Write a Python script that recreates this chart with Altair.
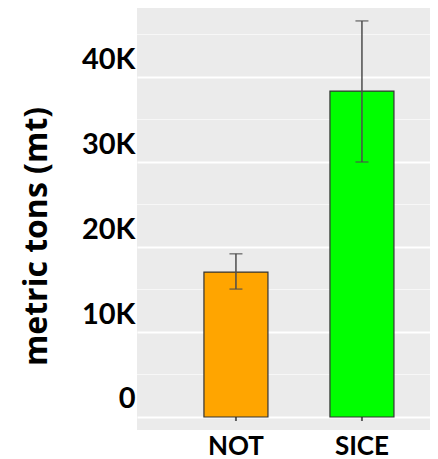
import altair as alt
import pandas as pd

categories = ["NOT", "SICE"]
means = [17050, 38350]
lower = [15050, 30000]
upper = [19200, 46600]
colors = ["#FFA500", "#00FF00"]
major_ticks = [0, 10000, 20000, 30000, 40000]
minor_ticks = [5000, 15000, 25000, 35000, 45000]

df = pd.DataFrame({"cat": categories, "mean": means, "lo": lower, "hi": upper, "color": colors})
minor_df = pd.DataFrame({"v": minor_ticks})

yscale = alt.Scale(domain=[-1530, 48120], nice=False, zero=False)
xscale = alt.Scale(domain=categories, paddingInner=0.492, paddingOuter=0.4087, align=0.65)

FONT = "Lato"

x_enc = alt.X("cat:N", scale=xscale, sort=categories,
              axis=alt.Axis(title=None, labelAngle=0, labelFont=FONT, labelFontSize=26,
                            labelFontWeight="bold", labelColor="black", ticks=False, tickSize=0,
                            domain=False, labelBaseline="alphabetic", labelPadding=24))

minor = alt.Chart(minor_df).mark_rule(color="#F7F7F7", strokeWidth=1).encode(
    y=alt.Y("v:Q", scale=yscale)
)

bars = alt.Chart(df).mark_bar(stroke="#333333", strokeWidth=1.2).encode(
    x=x_enc,
    y=alt.Y("mean:Q", scale=yscale,
            axis=alt.Axis(title="metric tons (mt)", values=major_ticks,
                          labelExpr="datum.value == 0 ? '0' : (datum.value/1000) + 'K'",
                          labelFont=FONT, labelFontSize=29, labelFontWeight="bold",
                          labelColor="black", labelOffset=-18, labelPadding=2,
                          ticks=False, tickSize=0, domain=False,
                          grid=True, gridColor="white", gridWidth=2,
                          titleFont="Open Sans", titleFontSize=32, titleFontWeight="bold",
                          titleColor="black", titlePadding=28, titleY=228)),
    y2=alt.Y2(datum=0),
    color=alt.Color("color:N", scale=None),
)

base_tick = alt.Chart(df).mark_tick(color="#222222", thickness=2, size=4, orient="vertical", yOffset=2).encode(
    x=alt.X("cat:N", scale=xscale, sort=categories),
    y=alt.Y(datum=0, scale=yscale),
)

err = alt.Chart(df).mark_rule(color="#4D4D4D", strokeWidth=1.5).encode(
    x=alt.X("cat:N", scale=xscale, sort=categories),
    y=alt.Y("lo:Q", scale=yscale),
    y2="hi:Q",
)
cap_lo = alt.Chart(df).mark_tick(color="#4D4D4D", thickness=1.5, size=13, orient="horizontal").encode(
    x=alt.X("cat:N", scale=xscale, sort=categories),
    y=alt.Y("lo:Q", scale=yscale),
)
cap_hi = alt.Chart(df).mark_tick(color="#4D4D4D", thickness=1.5, size=13, orient="horizontal").encode(
    x=alt.X("cat:N", scale=xscale, sort=categories),
    y=alt.Y("hi:Q", scale=yscale),
)

chart = alt.layer(minor, bars, base_tick, err, cap_lo, cap_hi).properties(
    width=293, height=422,
    autosize=alt.AutoSizeParams(type="none"),
    padding={"left": 129, "top": 0, "right": 0, "bottom": 29},
).configure_view(fill="#EBEBEB", stroke=None)

chart.save("out.html", embed_options={"renderer": "svg", "actions": False})
